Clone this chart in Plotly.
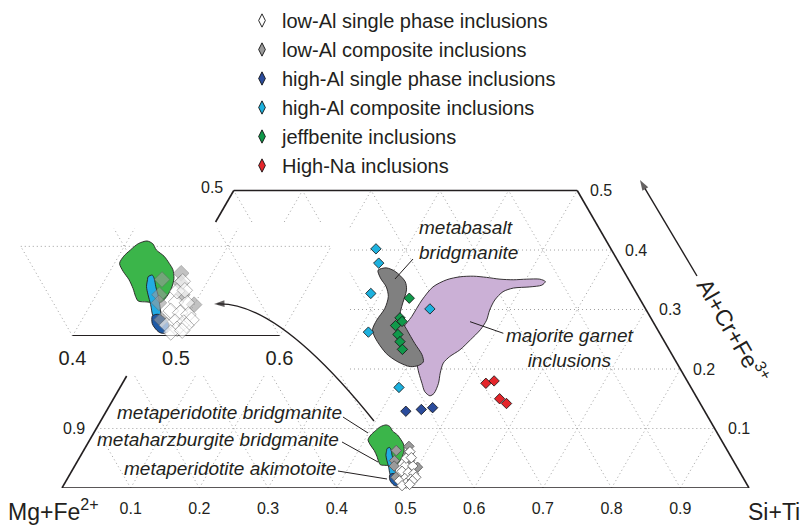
import numpy as np
import plotly.graph_objects as go

H = np.sqrt(3) / 2

# ---------------- data (ternary fractions: a = Al+Cr+Fe3+, s = Si+Ti) ----------------
low_al_single_a = [0.061, 0.038, 0.037, 0.028, 0.026, 0.024, 0.016, 0.015, 0.018, 0.012, 0.008, 0.012, 0.004, 0.006, 0.050, 0.051]
low_al_single_s = [0.476, 0.481, 0.492, 0.481, 0.491, 0.500, 0.491, 0.500, 0.506, 0.485, 0.497, 0.504, 0.493, 0.503, 0.476, 0.483]

low_al_comp_a = [0.063, 0.070, 0.059, 0.046, 0.037, 0.046, 0.035, 0.018]
low_al_comp_s = [0.455, 0.470, 0.475, 0.461, 0.465, 0.483, 0.500, 0.477]

high_al_single_a = [0.129, 0.132, 0.135]
high_al_single_s = [0.436, 0.457, 0.472]

high_al_comp_a = [0.402, 0.378, 0.327, 0.262, 0.301, 0.169]
high_al_comp_s = [0.256, 0.272, 0.286, 0.315, 0.385, 0.406]

jeff_a = [0.319, 0.286, 0.280, 0.273, 0.258, 0.246, 0.233]
jeff_s = [0.346, 0.349, 0.355, 0.349, 0.360, 0.369, 0.379]

high_na_a = [0.176, 0.180, 0.150, 0.142]
high_na_s = [0.529, 0.539, 0.562, 0.576]

# fields
peri_bdg_a = [0.081, 0.089, 0.096, 0.103, 0.106, 0.103, 0.096, 0.089, 0.081, 0.074, 0.064, 0.053, 0.044, 0.038, 0.037, 0.038, 0.039, 0.044, 0.053, 0.063, 0.072]
peri_bdg_s = [0.405, 0.405, 0.408, 0.412, 0.419, 0.426, 0.433, 0.444, 0.453, 0.460, 0.466, 0.469, 0.469, 0.467, 0.462, 0.453, 0.444, 0.439, 0.432, 0.423, 0.413]

harz_bdg_a = [0.063, 0.066, 0.068, 0.064, 0.055, 0.044, 0.033, 0.023, 0.014, 0.012, 0.016, 0.023, 0.035, 0.046, 0.055]
harz_bdg_s = [0.441, 0.440, 0.443, 0.447, 0.453, 0.461, 0.468, 0.474, 0.479, 0.478, 0.473, 0.466, 0.458, 0.450, 0.444]

peri_aki_a = [0.022, 0.024, 0.024, 0.020, 0.014, 0.007, 0.003, 0.004, 0.009, 0.014]
peri_aki_s = [0.466, 0.468, 0.472, 0.479, 0.486, 0.489, 0.488, 0.482, 0.475, 0.470]

basalt_bdg_a = [0.366, 0.370, 0.364, 0.347, 0.333, 0.305, 0.288, 0.266, 0.243, 0.224, 0.212, 0.206, 0.204, 0.212, 0.226, 0.252, 0.266, 0.282, 0.302, 0.322, 0.338, 0.353]
basalt_bdg_s = [0.277, 0.287, 0.303, 0.326, 0.335, 0.342, 0.348, 0.369, 0.392, 0.412, 0.420, 0.416, 0.405, 0.383, 0.359, 0.330, 0.319, 0.317, 0.319, 0.314, 0.303, 0.287]

majorite_a = [0.268, 0.288, 0.316, 0.338, 0.350, 0.355, 0.356, 0.354, 0.351, 0.350, 0.351, 0.351, 0.347, 0.341, 0.338, 0.336, 0.330, 0.316, 0.299, 0.282, 0.266, 0.249, 0.232, 0.221, 0.210, 0.193, 0.176, 0.159, 0.155, 0.162, 0.176, 0.193, 0.210, 0.226, 0.243, 0.257]
majorite_s = [0.363, 0.365, 0.366, 0.371, 0.385, 0.402, 0.421, 0.441, 0.462, 0.482, 0.501, 0.520, 0.530, 0.528, 0.512, 0.489, 0.477, 0.472, 0.473, 0.477, 0.476, 0.470, 0.463, 0.454, 0.450, 0.454, 0.460, 0.462, 0.458, 0.447, 0.436, 0.423, 0.411, 0.397, 0.385, 0.373]

# axis ticks
base_ticks = [0.1, 0.2, 0.3, 0.4, 0.5, 0.6, 0.7, 0.8, 0.9]
right_ticks = [0.1, 0.2, 0.3, 0.4, 0.5]
left_ticks_a = [0.1, 0.5]
left_ticks_text = ["0.9", "0.5"]
inset_ticks = [0.4, 0.5, 0.6]
grid_levels = [0.1, 0.2, 0.3, 0.4, 0.5, 0.6, 0.7, 0.8, 0.9]
A_MAX = 0.5

legend_names = ["low-Al single phase inclusions", "low-Al composite inclusions",
                "high-Al single phase inclusions", "high-Al composite inclusions",
                "jeffbenite inclusions", "High-Na inclusions"]
legend_colors = ["#ffffff", "#9b9b9b", "#2b4c9c", "#1db1de", "#10994a", "#e4262b"]

TXT = "#231f20"
FONT = "Liberation Sans, Arial, Helvetica, sans-serif"


def tern(a, s):
    a = np.asarray(a, float)
    s = np.asarray(s, float)
    return s + a / 2, a * H


def closed(a, s):
    x, y = tern(a, s)
    return list(x) + [x[0]], list(y) + [y[0]]


# ---------------- clipping helper for the inset window ----------------
BOX = (-1.0, 0.4192, 0.163, 0.3872)


def clip_out(p0, p1, box=BOX):
    xmin, xmax, ymin, ymax = box
    x0, y0 = p0
    dx, dy = p1[0] - x0, p1[1] - y0
    t0, t1 = 0.0, 1.0
    for p, q in ((-dx, x0 - xmin), (dx, xmax - x0), (-dy, y0 - ymin), (dy, ymax - y0)):
        if p == 0:
            if q < 0:
                return [(p0, p1)]
        else:
            r = q / p
            if p < 0:
                t0 = max(t0, r)
            else:
                t1 = min(t1, r)
    if t0 >= t1:
        return [(p0, p1)]
    pt = lambda t: (x0 + t * dx, y0 + t * dy)
    segs = []
    if t0 > 0:
        segs.append((p0, pt(t0)))
    if t1 < 1:
        segs.append((pt(t1), p1))
    return segs


def seg_trace_xy(segs):
    xs, ys = [], []
    for (p0, p1) in segs:
        xs += [p0[0], p1[0], None]
        ys += [p0[1], p1[1], None]
    return xs, ys


def tp(a, s):
    x, y = tern([a], [s])
    return (float(x[0]), float(y[0]))


# main grid (ternary endpoints)
grid_segs = []
for k in grid_levels:
    if k < A_MAX:
        grid_segs.append((tp(k, 0), tp(k, 1 - k)))
    top = min(A_MAX, 1 - k)
    grid_segs.append((tp(0, k), tp(top, k)))                 # s = const
    grid_segs.append((tp(0, 1 - k), tp(top, 1 - k - top)))  # m = const
clipped = []
for p0, p1 in grid_segs:
    clipped += clip_out(p0, p1)
gx, gy = seg_trace_xy(clipped)

# triangle outline
outline = [(tp(0, 0), tp(0, 1)), (tp(0, 1), tp(A_MAX, 1 - A_MAX)),
           (tp(A_MAX, 1 - A_MAX), tp(A_MAX, 0))]
left_edge = clip_out(tp(A_MAX, 0), tp(0, 0))
ox, oy = seg_trace_xy(outline + left_edge)

# inset grid
inset_segs = [(tp(0.1, 0.30), tp(0.1, 0.60)),
              (tp(0, 0.4), tp(0.12, 0.4)), (tp(0, 0.5), tp(0.12, 0.5)), (tp(0, 0.6), tp(0.1, 0.6)),
              (tp(0, 0.4), tp(0.1, 0.3)), (tp(0, 0.5), tp(0.12, 0.38)), (tp(0, 0.6), tp(0.12, 0.48))]
ix, iy = seg_trace_xy(inset_segs)

fig = go.Figure()

GRID_LINE = dict(color="#a0a0a0", width=1, dash="1px,3px")

fig.add_trace(go.Scatter(x=gx, y=gy, mode="lines", line=GRID_LINE, hoverinfo="skip", showlegend=False))
fig.add_trace(go.Scatter(x=ox, y=oy, mode="lines", line=dict(color=TXT, width=1.6), hoverinfo="skip", showlegend=False))


def field(a, s, color, xa="x", ya="y"):
    x, y = closed(a, s)
    fig.add_trace(go.Scatter(x=x, y=y, mode="lines", fill="toself", fillcolor=color,
                             line=dict(color=TXT, width=0.9, shape="spline", smoothing=0.8),
                             xaxis=xa, yaxis=ya, hoverinfo="skip", showlegend=False))


field(majorite_a, majorite_s, "#cbb0d6")
field(basalt_bdg_a, basalt_bdg_s, "#808080")
field(peri_bdg_a, peri_bdg_s, "#3bb54a")
field(harz_bdg_a, harz_bdg_s, "#22ace3")
field(peri_aki_a, peri_aki_s, "#1e5aa6")


def pts(a, s, color, size=8, xa="x", ya="y", opacity=1.0, lc="#111111"):
    x, y = tern(a, s)
    fig.add_trace(go.Scatter(x=x, y=y, mode="markers", xaxis=xa, yaxis=ya, cliponaxis=False,
                             marker=dict(symbol="diamond", size=size, color=color, opacity=opacity,
                                         line=dict(color=lc, width=0.8)),
                             hoverinfo="skip", showlegend=False))


pts(high_al_comp_a, high_al_comp_s, legend_colors[3])
pts(jeff_a, jeff_s, legend_colors[4])
pts(high_al_single_a, high_al_single_s, legend_colors[2])
pts(high_na_a, high_na_s, legend_colors[5])
pts(low_al_comp_a, low_al_comp_s, legend_colors[1], lc="#555555")
pts(low_al_single_a, low_al_single_s, legend_colors[0], lc="#555555")


# arrows (line + arrow-head marker whose tip sits on the last point)
def arrow(xs, ys, mode="lines+markers"):
    fig.add_trace(go.Scatter(x=xs, y=ys, mode=mode, cliponaxis=False, hoverinfo="skip", showlegend=False,
                             line=dict(color=TXT, width=1.4),
                             marker=dict(symbol=["circle", "arrow"], size=[0, 11], color=TXT,
                                         angleref="previous", line=dict(width=0))))


arrow([0.9243, 0.8413], [0.3086, 0.4483])                 # axis-title arrow
arrow([0.2413, 0.2213], [0.2686, 0.2678], mode="markers")  # head of curved arrow

# ---------------- inset ----------------
fig.add_trace(go.Scatter(x=ix, y=iy, mode="lines", line=GRID_LINE, xaxis="x2", yaxis="y2",
                         hoverinfo="skip", showlegend=False))
bx, by = tern([0, 0], [0.4, 0.6])
fig.add_trace(go.Scatter(x=bx, y=by, mode="lines", line=dict(color=TXT, width=1.8), xaxis="x2", yaxis="y2",
                         cliponaxis=False, hoverinfo="skip", showlegend=False))
field(peri_bdg_a, peri_bdg_s, "#3bb54a", "x2", "y2")
field(harz_bdg_a, harz_bdg_s, "#22ace3", "x2", "y2")
field(peri_aki_a, peri_aki_s, "#1e5aa6", "x2", "y2")
pts(low_al_comp_a, low_al_comp_s, "#9b9b9b", size=12, xa="x2", ya="y2", opacity=0.6, lc="#666666")
pts(low_al_single_a, low_al_single_s, "#ffffff", size=12, xa="x2", ya="y2", opacity=0.6, lc="#666666")

# legend entries
for name, col in zip(legend_names, legend_colors):
    fig.add_trace(go.Scatter(x=[None], y=[None], mode="markers", name=name,
                             marker=dict(symbol="diamond-tall", size=9.5, color=col,
                                         line=dict(color="#111111", width=0.9))))

# ---------------- annotations ----------------
ann = []
IT = dict(family=FONT, size=19, color=TXT)
ann.append(dict(x=0.5167, y=0.3603, text="<i>metabasalt<br>bridgmanite</i>", xanchor="left", yanchor="middle",
                align="left", showarrow=False, font=IT))
ann.append(dict(x=0.738, y=0.2031, text="<i>majorite garnet<br>inclusions</i>", xanchor="center", yanchor="middle",
                align="center", showarrow=False, font=IT))
ann.append(dict(x=0.4105, y=0.1106, text="<i>metaperidotite bridgmanite</i>", xanchor="right", yanchor="middle",
                showarrow=False, font=IT))
ann.append(dict(x=0.4061, y=0.0699, text="<i>metaharzburgite bridgmanite</i>", xanchor="right", yanchor="middle",
                showarrow=False, font=IT))
ann.append(dict(x=0.4017, y=0.0277, text="<i>metaperidotite akimotoite</i>", xanchor="right", yanchor="middle",
                showarrow=False, font=IT))

TK = dict(family=FONT, size=16, color=TXT)
for a in right_ticks:
    x, y = tp(a, 1 - a)
    ann.append(dict(x=x, y=y, text=f"{a:.1f}", xshift=24, showarrow=False, font=TK))
for a, t in zip(left_ticks_a, left_ticks_text):
    x, y = tp(a, 0)
    ann.append(dict(x=x, y=y, text=t, xshift=-22, yshift=3 if a == A_MAX else 0, showarrow=False, font=TK))

W, Hpx = 801, 526
BIG = dict(family=FONT, size=23, color=TXT)
ann.append(dict(x=7 / W, y=0, xref="paper", yref="paper", text="Mg+Fe<sup>2+</sup>",
                xanchor="left", yanchor="bottom", showarrow=False, font=BIG, borderpad=0))
ann.append(dict(x=1, y=0, xref="paper", yref="paper", text="Si+Ti",
                xanchor="right", yanchor="bottom", showarrow=False, font=BIG, borderpad=0))
ann.append(dict(x=0.978, y=0.2285, text="Al+Cr+Fe<sup>3+</sup>", textangle=60, showarrow=False, font=BIG))

shapes = []
LL = dict(color=TXT, width=1)
for (x0, y0, x1, y1) in [(0.5109, 0.3333, 0.4847, 0.3042), (0.5939, 0.2421, 0.6424, 0.2252),
                         (0.4090, 0.1033, 0.4454, 0.0801), (0.4076, 0.0670, 0.4600, 0.0378),
                         (0.4017, 0.0247, 0.4731, 0.0131)]:
    shapes.append(dict(type="line", xref="x", yref="y", x0=x0, y0=y0, x1=x1, y1=y1, line=LL))
shapes.append(dict(type="path", xref="x", yref="y", path="M 0.4541,0.0975 Q 0.3144,0.2715 0.2263,0.2680",
                   line=dict(color=TXT, width=1.4)))

S_MAIN = 687.0
X0_PX, Y0_PX = 62.0, 488.0
S_IN = 1035.0

fig.update_layout(
    width=W, height=Hpx, autosize=False,
    margin=dict(l=0, r=0, t=0, b=0),
    paper_bgcolor="white", plot_bgcolor="rgba(0,0,0,0)",
    xaxis=dict(domain=[0, 1], range=[-X0_PX / S_MAIN, (W - X0_PX) / S_MAIN],
               showgrid=False, zeroline=False, showline=False,
               tickmode="array", tickvals=base_ticks, ticktext=[f"{v:.1f}" for v in base_ticks],
               ticks="outside", ticklen=6, tickcolor="rgba(0,0,0,0)",
               tickfont=dict(family=FONT, size=16, color=TXT)),
    yaxis=dict(domain=[(Hpx - Y0_PX) / Hpx, 1], range=[0, Y0_PX / S_MAIN], visible=False),
    xaxis2=dict(domain=[0, 350 / W], range=[0.5 - 176 / S_IN, 0.5 + 174 / S_IN], anchor="y2",
                showgrid=False, zeroline=False, showline=False,
                tickmode="array", tickvals=inset_ticks, ticktext=[f"{v:.1f}" for v in inset_ticks],
                ticks="outside", ticklen=4, tickcolor="rgba(0,0,0,0)",
                tickfont=dict(family=FONT, size=20, color=TXT)),
    yaxis2=dict(domain=[(Hpx - 336) / Hpx, (Hpx - 222) / Hpx], range=[0, 114 / S_IN], anchor="x2",
                visible=False),
    showlegend=True,
    legend=dict(x=242 / W, y=1 - 1 / Hpx, xanchor="left", yanchor="top", bgcolor="rgba(0,0,0,0)",
                font=dict(family=FONT, size=20, color=TXT), tracegroupgap=0),
    annotations=ann, shapes=shapes,
)

fig.write_html("out.html")
